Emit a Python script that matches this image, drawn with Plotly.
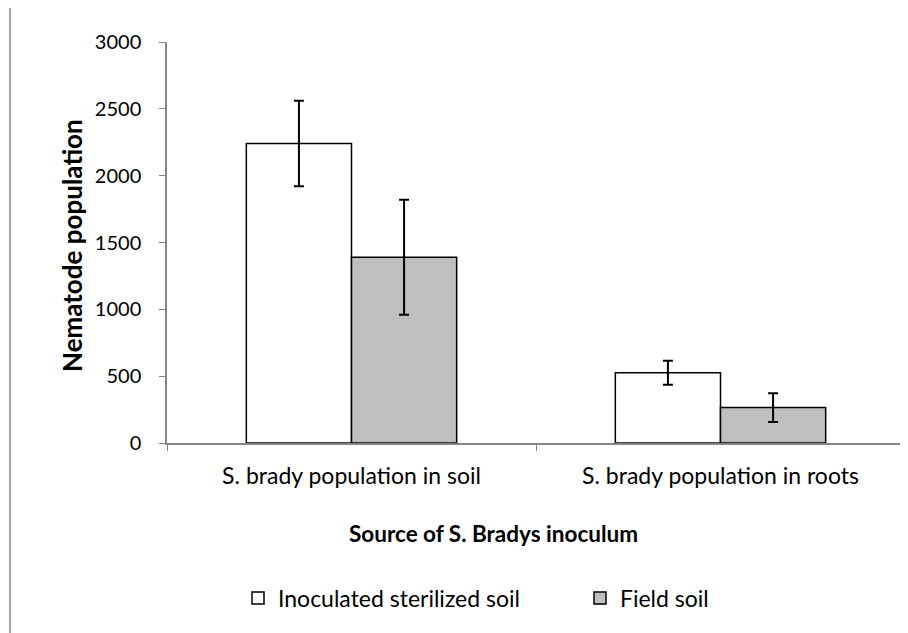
import plotly.graph_objects as go

categories = ["S. brady population in soil", "S. brady population in roots"]
sterilized = [2240, 525]
sterilized_err = [320, 90]
field = [1390, 265]
field_err = [430, 108]
y_ticks = [0, 500, 1000, 1500, 2000, 2500, 3000]

FONT = "Lato, Calibri, Carlito, sans-serif"

# page offset of the figure div (body margin)
OFF = 8
W, H = 908, 633
PL, PR, PT, PB = 167, 905, 42, 443   # plot area in page pixels
L, R, T, B = PL - OFF, W - (PR - OFF), PT - OFF, H - (PB - OFF)
PW, PH = PR - PL, PB - PT


def px(x):
    return (x - PL) / PW


def py(y):
    return (PB - y) / PH


fig = go.Figure()
fig.add_trace(go.Bar(
    name="Inoculated sterilized soil", x=categories, y=sterilized,
    marker=dict(color="white", line=dict(color="black", width=1.5)),
    error_y=dict(type="data", array=sterilized_err, color="black", thickness=2, width=5),
    legend="legend",
))
fig.add_trace(go.Bar(
    name="Field soil", x=categories, y=field,
    marker=dict(color="#bfbfbf", line=dict(color="black", width=1.5)),
    error_y=dict(type="data", array=field_err, color="black", thickness=2, width=5),
    legend="legend2",
))

leg = dict(orientation="h", xanchor="left", yanchor="middle", y=py(598),
           font=dict(size=23), itemwidth=30, bgcolor="rgba(0,0,0,0)")

fig.update_layout(
    width=W, height=H,
    margin=dict(l=L, r=R, t=T, b=B),
    paper_bgcolor="white", plot_bgcolor="white",
    font=dict(family=FONT, size=22, color="black"),
    barmode="group", bargap=0.43, bargroupgap=0,
    showlegend=True,
    legend=dict(leg, x=px(238)),
    legend2=dict(leg, x=px(580)),
    xaxis=dict(type="category", showline=True, linecolor="#868686", linewidth=1.5,
               ticks="outside", tickson="boundaries", ticklen=6, tickcolor="#868686",
               showgrid=False, tickfont=dict(size=23), automargin=False,
               ticklabelstandoff=12),
    yaxis=dict(range=[0, 3000], tickvals=y_ticks, showline=True, linecolor="#868686",
               linewidth=1.5, ticks="outside", ticklen=6, tickcolor="#868686",
               showgrid=False, zeroline=False, tickfont=dict(size=20), automargin=False,
               ticklabelstandoff=14),
    annotations=[
        dict(text="<b>Nematode population</b>", xref="paper", yref="paper",
             x=px(72), y=py(246), xanchor="center", yanchor="middle", textangle=-90,
             showarrow=False, font=dict(size=26)),
        dict(text="<b>Source of S. Bradys inoculum</b>", xref="paper", yref="paper",
             x=px(493), y=py(533), xanchor="center", yanchor="middle",
             showarrow=False, font=dict(size=22.5)),
    ],
    shapes=[
        dict(type="line", xref="paper", yref="paper", x0=px(10), x1=px(915),
             y0=py(6), y1=py(6), line=dict(color="#868686", width=1.5)),
        dict(type="line", xref="paper", yref="paper", x0=px(10), x1=px(10),
             y0=py(6), y1=py(645), line=dict(color="#868686", width=1.5)),
    ],
)

fig.write_html("out.html")
